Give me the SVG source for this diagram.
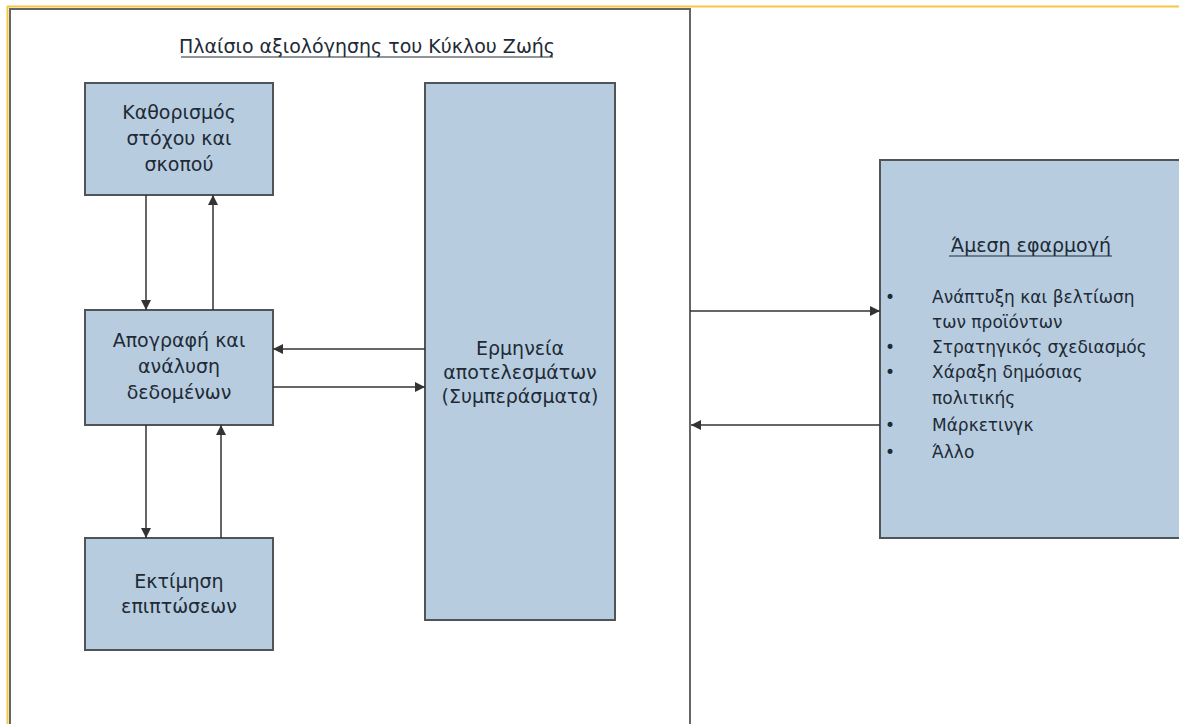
<svg xmlns="http://www.w3.org/2000/svg" width="1179" height="724" viewBox="0 0 1179 724">
<defs>
<style>
.box{fill:#b7cddf;stroke:#4f5458;stroke-width:2}
.t{font-family:"DejaVu Sans","Liberation Sans",sans-serif;font-size:19px;fill:#1e2a36;text-anchor:middle}
.l{font-family:"DejaVu Sans","Liberation Sans",sans-serif;font-size:17px;fill:#1e2a36}
.c{stroke:#333;stroke-width:1.5;fill:none;marker-end:url(#ah)}
</style>
<marker id="ah" viewBox="0 0 10 10" refX="10" refY="5" markerWidth="11" markerHeight="10" markerUnits="userSpaceOnUse" orient="auto"><path d="M0,0 L10,5 L0,10 z" fill="#333"/></marker>
</defs>
<rect width="1179" height="724" fill="#fff"/>
<line x1="7" y1="6.5" x2="1179" y2="6.5" stroke="#f5c842" stroke-width="2"/>
<line x1="7.5" y1="6" x2="7.5" y2="724" stroke="#f5c842" stroke-width="2"/>
<g id="frame">
<path d="M10,730 L10,9 L690,9 L690,730" fill="none" stroke="#666" stroke-width="2"/>
<text class="t" x="367" y="53" font-size="17.5">Πλαίσιο αξιολόγησης του Κύκλου Ζωής</text>
<line x1="181" y1="57" x2="553" y2="57" stroke="#1e2a36" stroke-width="1"/>
</g>
<g id="n1">
<rect class="box" x="85" y="83" width="188" height="112"/>
<text class="t" x="179" y="119">Καθορισμός</text>
<text class="t" x="179" y="145">στόχου και</text>
<text class="t" x="179" y="171">σκοπού</text>
</g>
<g id="n2">
<rect class="box" x="85" y="310" width="188" height="115"/>
<text class="t" x="179" y="347">Απογραφή και</text>
<text class="t" x="179" y="373">ανάλυση</text>
<text class="t" x="179" y="399">δεδομένων</text>
</g>
<g id="n3">
<rect class="box" x="85" y="538" width="188" height="112"/>
<text class="t" x="179" y="588">Εκτίμηση</text>
<text class="t" x="179" y="613">επιπτώσεων</text>
</g>
<g id="n4">
<rect class="box" x="425" y="83" width="190" height="537"/>
<text class="t" x="520" y="355">Ερμηνεία</text>
<text class="t" x="520" y="379">αποτελεσμάτων</text>
<text class="t" x="520" y="403">(Συμπεράσματα)</text>
</g>
<g id="n5">
<rect class="box" x="880" y="160" width="310" height="378"/>
<text class="t" x="1031" y="252" font-size="17">Άμεση εφαρμογή</text>
<line x1="949" y1="256" x2="1112" y2="256" stroke="#1e2a36" stroke-width="1"/>
<g class="l">
<text x="885" y="303">•</text><text x="932" y="303">Ανάπτυξη και βελτίωση</text>
<text x="932" y="328">των προϊόντων</text>
<text x="885" y="353">•</text><text x="932" y="353">Στρατηγικός σχεδιασμός</text>
<text x="885" y="378">•</text><text x="932" y="378">Χάραξη δημόσιας</text>
<text x="932" y="404">πολιτικής</text>
<text x="885" y="431">•</text><text x="932" y="431">Μάρκετινγκ</text>
<text x="885" y="458">•</text><text x="932" y="458">Άλλο</text>
</g>
</g>
<g id="connectors">
<line class="c" x1="146" y1="195" x2="146" y2="310"/>
<line class="c" x1="213" y1="310" x2="213" y2="195"/>
<line class="c" x1="146" y1="425" x2="146" y2="538"/>
<line class="c" x1="221" y1="538" x2="221" y2="425"/>
<line class="c" x1="425" y1="349" x2="273" y2="349"/>
<line class="c" x1="273" y1="387" x2="425" y2="387"/>
<line class="c" x1="690" y1="311" x2="880" y2="311"/>
<line class="c" x1="880" y1="425" x2="691" y2="425"/>
</g>
</svg>
